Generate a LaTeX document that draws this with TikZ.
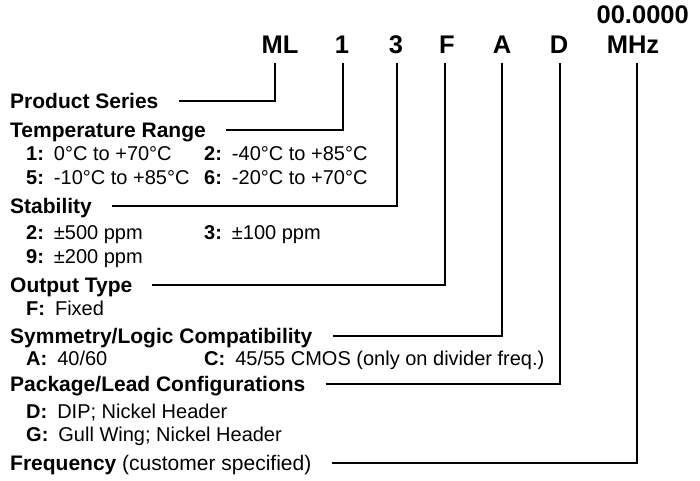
\documentclass[tikz,border=0pt]{standalone}
\usepackage{fontspec}
\setmainfont{Liberation Sans}
\newcommand\itm[2]{\textbf{#1}\hspace{0.5em}#2}
\begin{document}
\begin{tikzpicture}[x=1pt,y=-1pt,
  code/.style={font=\fontsize{25.5}{25.5}\selectfont\bfseries, anchor=base, inner sep=0pt},
  lab/.style={font=\fontsize{21}{21}\selectfont\bfseries, anchor=base west, inner sep=0pt},
  item/.style={font=\fontsize{20}{20}\selectfont, anchor=base west, inner sep=0pt},
  conn/.style={line width=2pt, line join=miter}]
\useasboundingbox[fill=white] (0,0) rectangle (700,480);
% part number
\node[code, anchor=base east] (freqval) at (689,23) {00.0000};
\node[code] (ML) at (280,53) {ML};
\node[code] (c1) at (342,53) {1};
\node[code] (c3) at (396,53) {3};
\node[code] (cF) at (447,53) {F};
\node[code] (cA) at (502,53) {A};
\node[code] (cD) at (559,53) {D};
\node[code] (cMHz) at (633,53) {MHz};
% labels
\node[lab] (ps) at (10,108) {Product Series};
\node[lab] (tr) at (10,137) {Temperature Range};
\node[item] (t1) at (26,160) {\itm{1:}{0°C to +70°C}};
\node[item] (t2) at (204,160) {\itm{2:}{-40°C to +85°C}};
\node[item] (t5) at (26,184) {\itm{5:}{-10°C to +85°C}};
\node[item] (t6) at (204,184) {\itm{6:}{-20°C to +70°C}};
\node[lab] (st) at (10,213) {Stability};
\node[item] (s2) at (26,239) {\itm{2:}{±500 ppm}};
\node[item] (s3) at (204,239) {\itm{3:}{±100 ppm}};
\node[item] (s9) at (26,263) {\itm{9:}{±200 ppm}};
\node[lab] (ot) at (10,292) {Output Type};
\node[item] (oF) at (26,315) {\itm{F:}{Fixed}};
\node[lab] (sy) at (10,343) {Symmetry/Logic Compatibility};
\node[item] (yA) at (26,365) {\itm{A:}{40/60}};
\node[item] (yC) at (204,365) {\itm{C:}{45/55 CMOS (only on divider freq.)}};
\node[lab] (pk) at (10,391) {Package/Lead Configurations};
\node[item] (pD) at (26,418) {\itm{D:}{DIP; Nickel Header}};
\node[item] (pG) at (26,441) {\itm{G:}{Gull Wing; Nickel Header}};
\node[lab] (fr) at (10,470) {Frequency \mdseries(customer specified)};
% connectors
\draw[conn] ([shift={(20pt,7pt)}]ps.base east) -| ([shift={(-5pt,-10pt)}]ML.base);
\draw[conn] ([shift={(20pt,7pt)}]tr.base east) -| ([shift={(1pt,-10pt)}]c1.base);
\draw[conn] ([shift={(20pt,7pt)}]st.base east) -| ([shift={(1pt,-10pt)}]c3.base);
\draw[conn] ([shift={(20pt,7pt)}]ot.base east) -| ([shift={(-2pt,-10pt)}]cF.base);
\draw[conn] ([shift={(20pt,7pt)}]sy.base east) -| ([shift={(0pt,-10pt)}]cA.base);
\draw[conn] ([shift={(20pt,7pt)}]pk.base east) -| ([shift={(1pt,-10pt)}]cD.base);
\draw[conn] ([shift={(20pt,7pt)}]fr.base east) -| ([shift={(4pt,-10pt)}]cMHz.base);
\end{tikzpicture}
\end{document}
